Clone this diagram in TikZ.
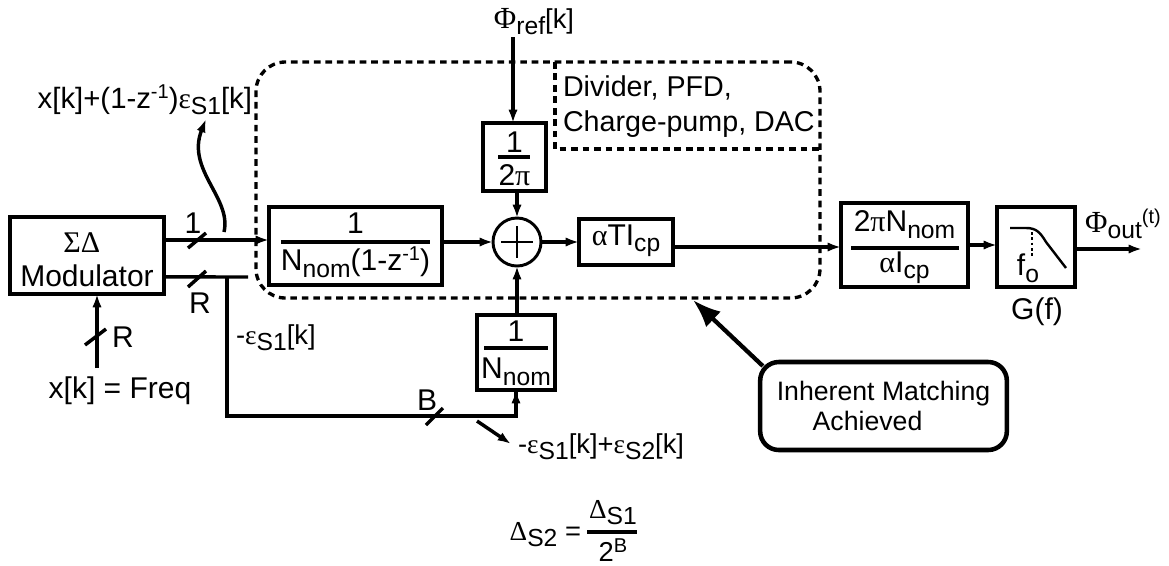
\documentclass[tikz,border=0pt]{standalone}
\usepackage{fontspec}
\setmainfont{Liberation Sans}
\newfontfamily\greekfont{Liberation Serif}
\usetikzlibrary{positioning,arrows.meta}
\newcommand{\gk}[1]{{\greekfont #1}}
\newcommand{\dn}[1]{\raisebox{-0.42ex}{\fontsize{18.5}{22}\selectfont #1}}
\newcommand{\up}[1]{\raisebox{0.62ex}{\fontsize{15}{18}\selectfont #1}}

\begin{document}
\begin{tikzpicture}[
    x=0.75pt, y=-0.75pt,
    every node/.style={font=\fontsize{22.5}{25.5}\selectfont},
    box/.style={draw, line width=2.6pt, outer sep=0pt, inner sep=0pt},
    lbl/.style={inner sep=0pt, outer sep=0pt},
    small/.style={inner sep=0pt, outer sep=0pt, font=\fontsize{20.5}{24}\selectfont},
    bar/.style={line width=2.6pt},
    arrow/.style={-{Latex[length=10pt,width=7pt]}, line width=2.6pt},
    wire/.style={line width=2.6pt},
    dashline/.style={line width=2.5pt, dash pattern=on 5pt off 3.6pt},
    core/.style={draw, dashline, rounded corners=22pt, minimum width=423pt, minimum height=177pt, outer sep=0pt}]
\useasboundingbox (0,0) rectangle (1169,565);
\node[draw, circle, line width=2.2pt, minimum size=36pt, inner sep=0pt, outer sep=0pt] (sum) at (517,242) {};
\draw[line width=1pt] ([xshift=-12pt]sum.center) -- ([xshift=12pt]sum.center);
\draw[line width=1pt] ([yshift=12pt]sum.center) -- ([yshift=-12pt]sum.center);
\node[box, minimum width=129.75pt, minimum height=58.5pt, left=38.25pt of sum, yshift=-3pt] (nomint) {};
\node[box, minimum width=47.25pt, minimum height=51pt, above=20.25pt of sum, xshift=-1.9pt] (twopi) {};
\node[box, minimum width=70.5pt, minimum height=34.5pt, right=28.5pt of sum] (atic) {};
\node[box, minimum width=95.25pt, minimum height=63pt, right=126pt of atic, yshift=-2.25pt] (gain) {};
\node[box, minimum width=58.5pt, minimum height=60pt, right=21.75pt of gain, yshift=-1.5pt] (lpf) {};
\node[box, minimum width=115.5pt, minimum height=57.75pt, left=78.75pt of nomint, yshift=-7.1pt] (mod) {};
\node[box, minimum width=58.5pt, minimum height=56.25pt, below=36.75pt of sum, xshift=-0.75pt] (nomfb) {};
\node[core] (dsp) at (538,180) {};
\draw[dashline] (555,62) -- (555,149) -- (820,149);
\node[lbl, anchor=west, font=\fontsize{21.5}{26}\selectfont] (blocktext) at (563,107) {\begin{tabular}{@{}l@{}}Divider, PFD,\\Charge-pump, DAC\end{tabular}};
% box contents
\node[lbl, align=center] (modtext) at ([yshift=-3.5pt]mod) {\gk{ΣΔ}\hspace*{8pt}\\Modulator};
\node[lbl] (nomintup) at ([yshift=17pt]nomint) {1};
\draw[bar] ([xshift=-56pt,yshift=3pt]nomint.center) -- ([xshift=56pt,yshift=3pt]nomint.center);
\node[lbl] (nomintdn) at ([yshift=-12pt]nomint) {N\dn{nom}(1-z\up{-1})};
\node[lbl] (twopiup) at ([yshift=11pt]twopi) {1};
\draw[bar] ([xshift=-12pt]twopi.center) -- ([xshift=12pt]twopi.center);
\node[lbl] (twopidn) at ([yshift=-13.5pt]twopi) {2\gk{π}};
\node[lbl] (aticval) at ([yshift=1pt]atic) {\gk{α}TI\dn{cp}};
\node[lbl] (gainup) at ([yshift=15.5pt]gain) {2\gk{π}N\dn{nom}};
\draw[bar] ([xshift=-40pt,yshift=-2.25pt]gain.center) -- ([xshift=41pt,yshift=-2.25pt]gain.center);
\node[lbl] (gaindn) at ([yshift=-17pt]gain) {\gk{α}I\dn{cp}};
\node[lbl] (nomfbup) at ([yshift=16pt]nomfb) {1};
\draw[bar] ([xshift=-24pt,yshift=3.5pt]nomfb.center) -- ([xshift=24pt,yshift=3.5pt]nomfb.center);
\node[lbl] (nomfbdn) at ([yshift=-14.5pt]nomfb) {N\dn{nom}};
% filter sketch
\draw[line width=1.8pt] (1010,228) -- (1026,228) .. controls (1036,228) and (1040,232) .. (1046,242) -- (1066,268);
\draw[line width=2pt, dotted] (1032,232) -- (1032,256);
\node[lbl] (fo) at (1028,268) {f\dn{o}};
\node[lbl] (gf) at (1037,312) {G(f)};
% connections
\coordinate (tapone) at ([yshift=11.6pt]mod.east);
\coordinate (tapr) at ([yshift=-16.1pt]mod.east);
\coordinate (tapend) at (248,277);
\coordinate (corner) at (227,416);
\coordinate (refend) at (513,37);
\coordinate (inend) at (97,368);
\coordinate (outend) at (1142,249);
\draw[arrow] (tapone) -- (tapone -| nomint.west);
\draw[wire] (tapr) -- (tapend);
\draw[wire] (corner |- tapr) -- (corner) -| (nomfb.south);
\draw[arrow] (corner -| nomfb.south) -- (nomfb.south);
\draw[arrow] (nomint.east |- sum) -- (sum.west);
\draw[arrow] (refend) -- (refend |- twopi.north);
\draw[arrow] (sum |- twopi.south) -- (sum.north);
\draw[arrow] (sum |- nomfb.north) -- (sum.south);
\draw[arrow] (sum.east) -- (atic.west);
\draw[arrow] ([yshift=-3.75pt]atic.east) -- ([yshift=-3.75pt]atic.east -| gain.west);
\draw[arrow] (gain.east) -- (gain.east -| lpf.west);
\draw[arrow] (outend -| lpf.east) -- (outend);
\draw[arrow] (inend) -- (inend |- mod.south);
% bus slashes
\draw[wire] (188,248) -- (206,233);
\draw[wire] (188,287) -- (206,271);
\draw[wire] (85,345) -- (106,329);
\draw[wire] (426,425) -- (443,408);
% labels
\node[small] (phiref) at (534,22) {{\fontsize{23}{26}\selectfont\gk{Φ}}\dn{ref}[k]};
\node[small] (phiout) at (1123,224) {{\fontsize{23}{26}\selectfont\gk{Φ}}\dn{out}\up{(t)}};
\node[lbl] (labone) at (193,223) {1};
\node[lbl] (labr) at (200,303) {R};
\node[lbl] (labin) at (123,337) {R};
\node[lbl] (labb) at (427,400) {B};
\node[lbl] (freq) at (120,391) {x[k] = Freq};
\node[lbl, anchor=east, font=\fontsize{22}{25}\selectfont] (quant) at (252,100) {x[k]+(1-z\up{-1})\gk{ε}\dn{S1}[k]};
\node[small, anchor=west] (errone) at (236,338) {-\gk{ε}\dn{S1}[k]};
\node[small, anchor=west] (errtwo) at (518,447) {-\gk{ε}\dn{S1}[k]+\gk{ε}\dn{S2}[k]};
\node[small, anchor=east] (deltwo) at (581,535) {\gk{Δ}\dn{S2} =};
\node[small] (delone) at (613,513) {\gk{Δ}\dn{S1}};
\draw[bar] (587,532) -- (637,532);
\node[small] (twob) at (613,550) {2\up{B}};
% callouts
\draw[arrow] (224,232) .. controls (232,198) and (186,170) .. (206,119);
\draw[arrow] (477,421) -- (511,444);
\node[draw, line width=3.4pt, rounded corners=14pt, minimum width=185pt, minimum height=66pt, align=center, outer sep=0pt, font=\fontsize{20}{22.5}\selectfont] (note) at (883.5,406) {Inherent Matching\\Achieved\hspace*{24pt}};
\coordinate (notetip) at (693,300);
\draw[-{Latex[length=21pt,width=16pt]}, line width=3.2pt] ([xshift=2pt,yshift=-3pt]note.north west) -- (notetip);
\end{tikzpicture}
\end{document}
